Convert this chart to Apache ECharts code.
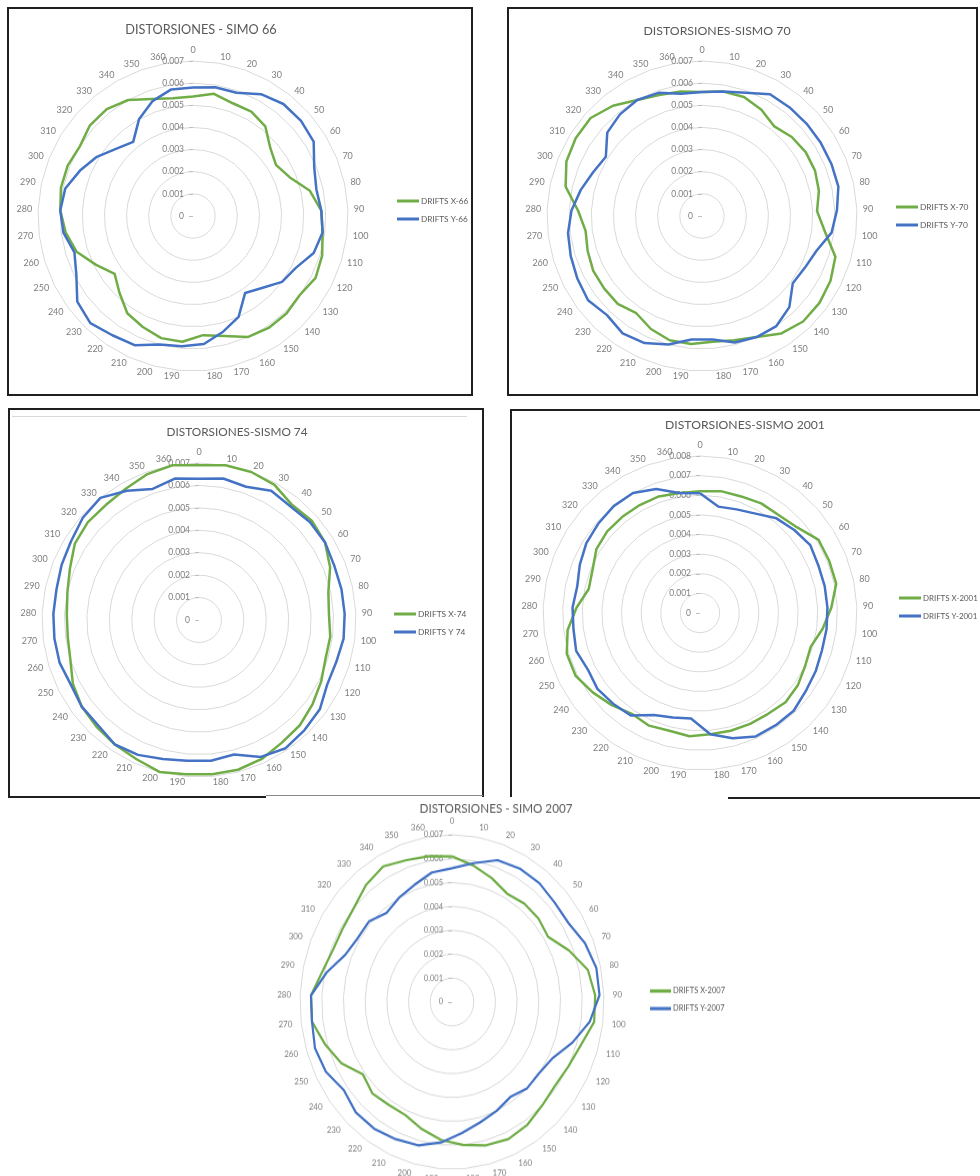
<!DOCTYPE html>
<html>
<head>
<meta charset="utf-8">
<script src="https://cdn.jsdelivr.net/npm/echarts@6/dist/echarts.min.js"></script>
<style>
  html, body { margin: 0; padding: 0; background: #fff; }
  #page { position: relative; width: 980px; height: 1176px; overflow: hidden; background: #fff; }
  .ln { position: absolute; background: #1f1f1f; }
  #main, #c2007 { position: absolute; left: 0; top: 0; width: 980px; height: 1176px; }
  /* the 2007 plot is slightly taller than wide */
  #c2007 { transform: scaleY(1.1); transform-origin: 0 1002px; }
</style>
</head>
<body>
<div id="page">
  <!-- frame: SIMO 66 -->
  <div class="ln" style="left:7px;top:7px;width:466px;height:2px"></div>
  <div class="ln" style="left:7px;top:394px;width:466px;height:2px"></div>
  <div class="ln" style="left:7px;top:7px;width:2px;height:389px"></div>
  <div class="ln" style="left:471px;top:7px;width:2px;height:389px"></div>
  <!-- frame: SISMO 70 -->
  <div class="ln" style="left:507px;top:7px;width:471px;height:2px"></div>
  <div class="ln" style="left:507px;top:394px;width:471px;height:2px"></div>
  <div class="ln" style="left:507px;top:7px;width:2px;height:389px"></div>
  <div class="ln" style="left:976px;top:7px;width:2px;height:389px"></div>
  <!-- frame: SISMO 74 -->
  <div class="ln" style="left:8px;top:408px;width:476px;height:2px"></div>
  <div class="ln" style="left:8px;top:408px;width:2px;height:389px"></div>
  <div class="ln" style="left:482px;top:408px;width:2px;height:389px"></div>
  <div class="ln" style="left:8px;top:796px;width:258px;height:2px"></div>
  <div class="ln" style="left:266px;top:795px;width:217px;height:1px;background:#8a8a8a"></div>
  <div class="ln" style="left:12px;top:416px;width:455px;height:1px;background:#d9d9d9"></div>
  <!-- frame: SISMO 2001 -->
  <div class="ln" style="left:510px;top:409px;width:470px;height:2px"></div>
  <div class="ln" style="left:510px;top:409px;width:2px;height:388px"></div>
  <div class="ln" style="left:728px;top:797px;width:252px;height:2px"></div>

  <div id="main"></div>
  <div id="c2007"></div>
</div>
<script>
// Direction categories (degrees) shared by every radar
const ANGLES = [0, 10, 20, 30, 40, 50, 60, 70, 80, 90, 100, 110, 120, 130, 140, 150, 160, 170, 180,
                190, 200, 210, 220, 230, 240, 250, 260, 270, 280, 290, 300, 310, 320, 330, 340, 350, 360];

// Drifts per direction, SIMO 66
const driftsX66 = [0.0054, 0.0056, 0.0054, 0.0054, 0.0052, 0.00465, 0.0044, 0.0047, 0.0054, 0.0058,
                   0.0059, 0.0061, 0.0062, 0.0060, 0.0061, 0.0061, 0.0060, 0.0056, 0.0054, 0.0057,
                   0.0057, 0.0055, 0.0053, 0.0048, 0.0044, 0.0049, 0.0055, 0.0058, 0.0060, 0.0061,
                   0.0061, 0.0060, 0.0062, 0.0062, 0.0060, 0.0056, 0.0054];
const driftsY66 = [0.0058, 0.0059, 0.0059, 0.0063, 0.0065, 0.0065, 0.0064, 0.0059, 0.0057, 0.0058,
                   0.0059, 0.0057, 0.0052, 0.0050, 0.0045, 0.0042, 0.0050, 0.0054, 0.0058, 0.0059,
                   0.0060, 0.0064, 0.0065, 0.0067, 0.0065, 0.0059, 0.0056, 0.0059, 0.0060, 0.0059,
                   0.0055, 0.0051, 0.0046, 0.0043, 0.0050, 0.0055, 0.0058];

// SISMO 70
const driftsX70 = [0.0056, 0.0057, 0.0057, 0.0055, 0.0052, 0.0054, 0.0055, 0.0055, 0.0054, 0.0052,
                   0.0056, 0.0063, 0.0065, 0.0066, 0.0066, 0.0064, 0.0060, 0.0058, 0.0057, 0.0058,
                   0.0058, 0.0056, 0.0053, 0.0055, 0.0055, 0.0055, 0.0054, 0.0053, 0.0056, 0.0063,
                   0.0066, 0.0067, 0.0067, 0.0064, 0.0060, 0.0058, 0.0057];
const driftsY70 = [0.0056, 0.0057, 0.0059, 0.0063, 0.0063, 0.0063, 0.0063, 0.0063, 0.0063, 0.0061,
                   0.0059, 0.0054, 0.0052, 0.0051, 0.0057, 0.0060, 0.0060, 0.0059, 0.0056, 0.0056,
                   0.0060, 0.0063, 0.0064, 0.0062, 0.0064, 0.0063, 0.0062, 0.0061, 0.0059, 0.0056,
                   0.0053, 0.0051, 0.0057, 0.0059, 0.0060, 0.0059, 0.0056];

// SISMO 74
const driftsX74 = [0.0069, 0.0070, 0.0070, 0.0069, 0.0066, 0.0067, 0.0066, 0.0063, 0.0059, 0.0058,
                   0.0059, 0.0059, 0.0061, 0.0063, 0.0065, 0.0066, 0.0068, 0.0069, 0.0069, 0.0069,
                   0.0070, 0.0068, 0.0067, 0.0066, 0.0065, 0.0063, 0.0060, 0.0059, 0.0059, 0.0060,
                   0.0062, 0.0065, 0.0066, 0.0066, 0.0067, 0.0069, 0.0070];
const driftsY74 = [0.0063, 0.0064, 0.0063, 0.0066, 0.0065, 0.0066, 0.0066, 0.0065, 0.0065, 0.0065,
                   0.0065, 0.0064, 0.0064, 0.0067, 0.0068, 0.0069, 0.0067, 0.0062, 0.0063, 0.0063,
                   0.0064, 0.0066, 0.0067, 0.0065, 0.0065, 0.0064, 0.0065, 0.0065, 0.0065, 0.0065,
                   0.0066, 0.0067, 0.0069, 0.0070, 0.0066, 0.0062, 0.0064];

// SISMO 2001
const driftsX2001 = [0.0062, 0.0063, 0.0063, 0.0064, 0.0064, 0.0066, 0.0071, 0.0071, 0.0071, 0.0067,
                     0.0063, 0.0059, 0.0060, 0.0062, 0.0063, 0.0062, 0.0062, 0.0062, 0.0062, 0.0063,
                     0.0062, 0.0063, 0.0062, 0.0065, 0.0068, 0.0071, 0.0071, 0.0068, 0.0063, 0.0058,
                     0.0059, 0.0062, 0.0063, 0.0063, 0.0063, 0.0063, 0.0062];
const driftsY2001 = [0.0061, 0.0055, 0.0056, 0.0058, 0.0062, 0.0064, 0.0066, 0.0065, 0.0065, 0.0065,
                     0.0065, 0.0065, 0.0066, 0.0067, 0.0069, 0.0069, 0.0069, 0.0066, 0.0062, 0.0054,
                     0.0055, 0.0057, 0.0063, 0.0064, 0.0065, 0.0064, 0.0066, 0.0065, 0.0065, 0.0064,
                     0.0066, 0.0068, 0.0069, 0.0070, 0.0070, 0.0067, 0.0062];

// SIMO 2007
const driftsX2007 = [0.0061, 0.0058, 0.0055, 0.0052, 0.0053, 0.0053, 0.0052, 0.0058, 0.0064, 0.0066,
                     0.0066, 0.0062, 0.0060, 0.0059, 0.0060, 0.0062, 0.0063, 0.0062, 0.0060, 0.0058,
                     0.0055, 0.0052, 0.0052, 0.0053, 0.0051, 0.0057, 0.0061, 0.0065, 0.0065, 0.0061,
                     0.0059, 0.0059, 0.0060, 0.0063, 0.0065, 0.0063, 0.0062];
const driftsY2007 = [0.0056, 0.0059, 0.0063, 0.0064, 0.0064, 0.0063, 0.0063, 0.0066, 0.0068, 0.0068,
                     0.0064, 0.0058, 0.0052, 0.0050, 0.0050, 0.0048, 0.0050, 0.0052, 0.0055, 0.0059,
                     0.0062, 0.0063, 0.0064, 0.0064, 0.0062, 0.0065, 0.0066, 0.0065, 0.0065, 0.0059,
                     0.0053, 0.0051, 0.0051, 0.0048, 0.0050, 0.0052, 0.0055];

const GREEN = '#70AD47';
const BLUE = '#4472C4';
const FONT = 'Lato, "Open Sans", sans-serif';

// ECharts lays radar axes out counter-clockwise; keep the first axis on top
// and walk the rest backwards so directions increase clockwise.
function clockwise(arr) {
  return [arr[0]].concat(arr.slice(1).reverse());
}

function radarOf(p) {
  const names = clockwise(ANGLES);
  return {
    center: [p.cx, p.cy],
    radius: p.r,
    startAngle: 90,
    shape: 'polygon',
    splitNumber: p.rings,
    nameGap: p.gap,
    indicator: names.map(function (a, k) {
      const ind = { name: String(a), min: 0, max: p.max };
      if (k === 0) {
        ind.axisLabel = { show: true };
        ind.axisTick = { show: true };
      }
      return ind;
    }),
    axisName: { color: '#7f7f7f', fontSize: p.fs, fontFamily: FONT },
    axisLine: { show: false },
    splitLine: { lineStyle: { color: '#d9d9d9', width: 1 } },
    splitArea: { show: false },
    axisTick: { show: false, length: 4, lineStyle: { color: '#bfbfbf', width: 1 } },
    axisLabel: {
      show: false, color: '#7f7f7f', fontSize: p.vfs, fontFamily: FONT, margin: 9,
      formatter: function (v) { return v === 0 ? '0' : v.toFixed(3); }
    }
  };
}

function seriesOf(idx, xName, xVals, yName, yVals, w) {
  return {
    type: 'radar', radarIndex: idx, symbol: 'none', silent: true,
    data: [
      { name: xName, value: clockwise(xVals), lineStyle: { color: GREEN, width: w }, itemStyle: { color: GREEN } },
      { name: yName, value: clockwise(yVals), lineStyle: { color: BLUE, width: w }, itemStyle: { color: BLUE } }
    ]
  };
}

function titleOf(text, x, y, fs) {
  return {
    text: text, left: x, top: y, textAlign: 'center', padding: 0,
    textStyle: { color: '#595959', fontSize: fs, fontWeight: 'normal', fontFamily: FONT }
  };
}

function legendOf(names, x, y, w, gap, fs) {
  return {
    data: names, orient: 'vertical', left: x, top: y, padding: 0,
    itemWidth: w, itemHeight: 3, itemGap: gap, icon: 'rect', selectedMode: false,
    textStyle: { color: '#595959', fontSize: fs, fontFamily: FONT, lineHeight: 12, padding: [0, 0, 0, -3] }
  };
}

const charts = [
  { title: 'DISTORSIONES - SIMO 66', tfs: 12.7, tx: 201, ty: 23, cx: 193, cy: 216, r: 155, max: 0.007, rings: 7,
    xName: 'DRIFTS X-66', yName: 'DRIFTS Y-66', x: driftsX66, y: driftsY66, lx: 397, ly: 195, lfs: 8.2 },
  { title: 'DISTORSIONES-SISMO 70', tfs: 12.3, tx: 717, ty: 25, cx: 702, cy: 216, r: 155, max: 0.007, rings: 7,
    xName: 'DRIFTS X-70', yName: 'DRIFTS Y-70', x: driftsX70, y: driftsY70, lx: 896, ly: 201, lfs: 8.4 },
  { title: 'DISTORSIONES-SISMO 74', tfs: 11.8, tx: 237, ty: 426, cx: 199, cy: 620, r: 157, max: 0.007, rings: 7,
    xName: 'DRIFTS X-74', yName: 'DRIFTS Y 74', x: driftsX74, y: driftsY74, lx: 394, ly: 608, lfs: 8.4 },
  { title: 'DISTORSIONES-SISMO 2001', tfs: 12.2, tx: 745, ty: 419, cx: 700, cy: 613, r: 157, max: 0.008, rings: 8,
    xName: 'DRIFTS X-2001', yName: 'DRIFTS Y-2001', x: driftsX2001, y: driftsY2001, lx: 899, ly: 592, lfs: 7.9 }
];

const main = echarts.init(document.getElementById('main'), null, { renderer: 'canvas' });
main.setOption({
  animation: false,
  backgroundColor: 'transparent',
  title: charts.map(function (c) { return titleOf(c.title, c.tx, c.ty, c.tfs); }),
  legend: charts.map(function (c) { return legendOf([c.xName, c.yName], c.lx, c.ly, 22, 6, c.lfs); }),
  radar: charts.map(function (c) {
    return radarOf({ cx: c.cx, cy: c.cy, r: c.r, max: c.max, rings: c.rings, gap: 6, fs: 9, vfs: 8.5 });
  }),
  series: charts.map(function (c, i) { return seriesOf(i, c.xName, c.x, c.yName, c.y, 2.5); })
});

// SIMO 2007, drawn in its own vertically stretched layer
const c2007 = echarts.init(document.getElementById('c2007'), null, { renderer: 'canvas' });
c2007.setOption({
  animation: false,
  backgroundColor: 'transparent',
  title: [titleOf('DISTORSIONES - SIMO 2007', 496, 820, 11.7)],
  legend: [legendOf(['DRIFTS X-2007', 'DRIFTS Y-2007'], 650, 986, 21, 4, 7.5)],
  radar: [radarOf({ cx: 452, cy: 1002, r: 152, max: 0.007, rings: 7, gap: 9, fs: 8, vfs: 7.5 })],
  series: [seriesOf(0, 'DRIFTS X-2007', driftsX2007, 'DRIFTS Y-2007', driftsY2007, 2.2)]
});
</script>
</body>
</html>
